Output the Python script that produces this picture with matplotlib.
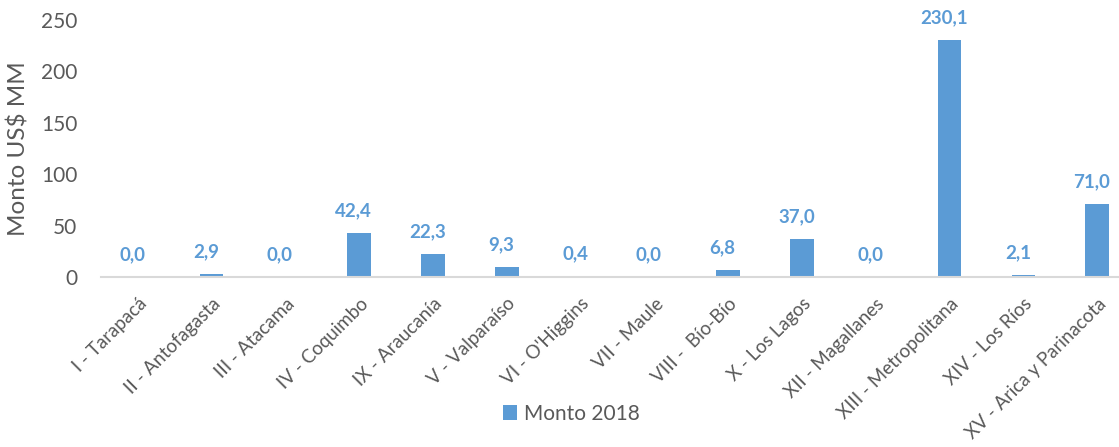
import matplotlib
matplotlib.use("Agg")
import matplotlib.pyplot as plt

plt.rcParams['font.family'] = ['Lato', 'DejaVu Sans']

regiones = ["I - Tarapacá", "II - Antofagasta", "III - Atacama", "IV - Coquimbo",
            "IX - Araucanía", "V - Valparaíso", "VI - O'Higgins", "VII - Maule",
            "VIII -  Bío-Bío", "X - Los Lagos", "XII - Magallanes",
            "XIII - Metropolitana", "XIV - Los Ríos", "XV - Arica y Parinacota"]
monto_2018 = [0.0, 2.9, 0.0, 42.4, 22.3, 9.3, 0.4, 0.0, 6.8, 37.0, 0.0, 230.1, 2.1, 71.0]

BLUE = "#5B9BD5"
GREY = "#595959"

fig = plt.figure(figsize=(11.19, 4.47), dpi=100)
ax = fig.add_axes([101/1119, 1 - 277/447, 1033/1119, 257/447])

x = list(range(len(regiones)))
bars = ax.bar(x, monto_2018, width=0.32, color=BLUE, label="Monto 2018")

# etiquetas de datos, con coma decimal
for xi, v in zip(x, monto_2018):
    ax.annotate(f"{v:.1f}".replace(".", ","), (xi, v), xytext=(-4, 10),
                textcoords="offset points", ha="center", va="bottom",
                fontsize=13.5, fontweight="bold", color=BLUE)

ax.set_xlim(-0.5, len(regiones) - 0.5)
ax.set_ylim(0, 250)
ax.set_yticks([0, 50, 100, 150, 200, 250])
ax.set_xticks(x)
ax.set_xticklabels(regiones, rotation=45, ha="right", rotation_mode="anchor",
                   fontsize=13.5, color=GREY)
ax.tick_params(axis="y", length=0, labelsize=15, labelcolor=GREY, pad=17)
ax.tick_params(axis="x", length=0, pad=13)
ax.set_ylabel("Monto US$ MM", fontsize=17.5, color=GREY, labelpad=8)

for s in ["top", "right", "left"]:
    ax.spines[s].set_visible(False)
ax.spines["bottom"].set_color("#D9D9D9")
ax.spines["bottom"].set_linewidth(1.5)

fig.legend(handles=[bars], labels=["Monto 2018"], loc="center",
           bbox_to_anchor=(571/1119, 1 - 414/447), frameon=False,
           fontsize=15, labelcolor=GREY, handlelength=0.7, handleheight=0.7,
           handletextpad=0.3)

fig.savefig("out.png", dpi=100)
